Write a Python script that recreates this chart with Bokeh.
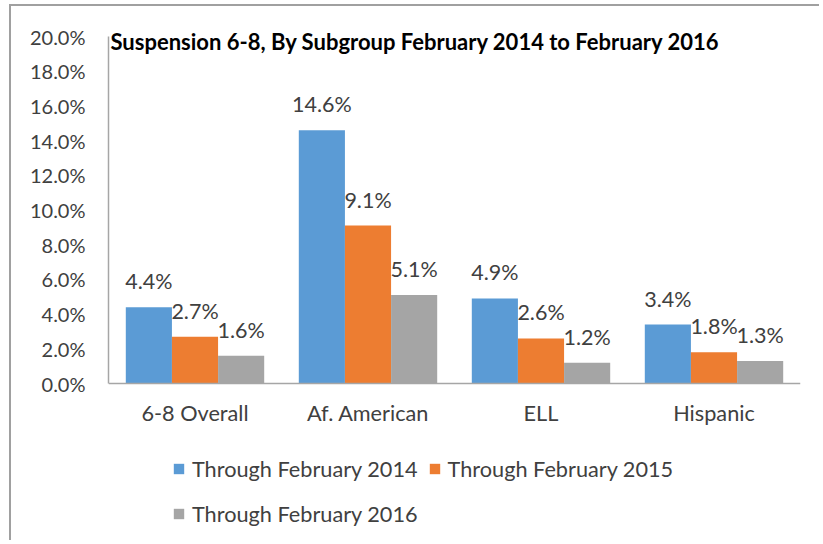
from bokeh.plotting import figure
from bokeh.models import (ColumnDataSource, FactorRange, Range1d, LabelSet, Label,
                          Legend, LegendItem, PrintfTickFormatter, FixedTicker)
from bokeh.core.properties import value
from bokeh.transform import dodge
from bokeh.embed import file_html
from bokeh.resources import INLINE

categories = ["6-8 Overall", "Af. American", "ELL", "Hispanic"]
series_names = ["Through February 2014", "Through February 2015", "Through February 2016"]
feb_2014 = [4.4, 14.6, 4.9, 3.4]
feb_2015 = [2.7, 9.1, 2.6, 1.8]
feb_2016 = [1.6, 5.1, 1.2, 1.3]
y_ticks = [0, 2, 4, 6, 8, 10, 12, 14, 16, 18, 20]
title_text = "Suspension 6-8, By Subgroup February 2014 to February 2016"

colors = ["#5B9BD5", "#ED7D31", "#A5A5A5"]
FONT = "Lato"
TXT = "#404040"

# layout (pixels)
W, H = 810, 536
TOP, LEFT, RIGHT = 5, 97, 21
VAL_TOP = 30            # pixel offset of the 20% line from the canvas top
PLOT_H = 347            # height of the 0..20% value area
Y_MAX = 20
px_per_unit = PLOT_H / Y_MAX
y_end = Y_MAX + (VAL_TOP - TOP) / px_per_unit
y_start = -(H - VAL_TOP - PLOT_H) / px_per_unit   # frame reaches the bottom so the legend is visible

src = ColumnDataSource(dict(
    cat=categories,
    s0=feb_2014, s1=feb_2015, s2=feb_2016,
    l0=[f"{v:.1f}%" for v in feb_2014],
    l1=[f"{v:.1f}%" for v in feb_2015],
    l2=[f"{v:.1f}%" for v in feb_2016],
))

p = figure(x_range=FactorRange(*categories, range_padding=0), y_range=Range1d(y_start, y_end),
           width=W, height=H, output_backend="svg", toolbar_location=None,
           min_border_left=LEFT, min_border_right=RIGHT, min_border_top=TOP, min_border_bottom=0)

p.styles = {"border-left": "2px solid #a0a0a0", "border-top": "2px solid #a0a0a0",
            "margin-left": "9px", "margin-top": "4px"}

w = 0.8 / 3
offsets = [-w, 0, w]
renderers = []
for i, (col, c) in enumerate(zip(["s0", "s1", "s2"], colors)):
    r = p.vbar(x=dodge("cat", offsets[i], range=p.x_range), top=col, bottom=0, width=w,
               source=src, fill_color=c, line_color=None)
    renderers.append(r)
    labels = LabelSet(x=dodge("cat", offsets[i], range=p.x_range), y=col, text=f"l{i}",
                      source=src, text_align="center", text_baseline="bottom",
                      y_offset=13, text_font=value(FONT), text_font_size="21.5px",
                      text_color=TXT)
    p.add_layout(labels)

p.xgrid.grid_line_color = None
p.ygrid.grid_line_color = None
p.outline_line_color = None

p.xaxis.fixed_location = 0
p.yaxis.bounds = (0, Y_MAX)
p.yaxis.ticker = FixedTicker(ticks=y_ticks)
p.yaxis.formatter = PrintfTickFormatter(format="%.1f%%")
for ax in (p.xaxis, p.yaxis):
    ax.major_tick_line_color = None
    ax.minor_tick_line_color = None
    ax.axis_line_color = "#A6A6A6"
    ax.axis_line_width = 1.5
    ax.major_label_text_font = FONT
    ax.major_label_text_color = TXT
p.yaxis.major_label_text_font_size = "20px"
p.xaxis.major_label_text_font_size = "21.7px"
p.yaxis.major_label_standoff = 17
p.xaxis.major_label_standoff = 10

p.add_layout(Label(x=0, y=Y_MAX, x_offset=2, y_offset=-5, text=title_text,
                   text_font=FONT, text_font_style="bold", text_font_size="22px",
                   text_color="#000000", text_baseline="middle"))

legend = Legend(items=[LegendItem(label=name, renderers=[r])
                       for name, r in zip(series_names, renderers)],
                orientation="horizontal", ncols=2,
                location=(64, 11), margin=0, padding=0,
                border_line_color=None, background_fill_alpha=0,
                spacing=10, label_standoff=7, glyph_width=13, glyph_height=13,
                label_height=35,
                label_text_font=FONT, label_text_font_size="21.7px", label_text_color=TXT)
p.add_layout(legend)

open("out.html", "w").write(file_html(p, INLINE))
